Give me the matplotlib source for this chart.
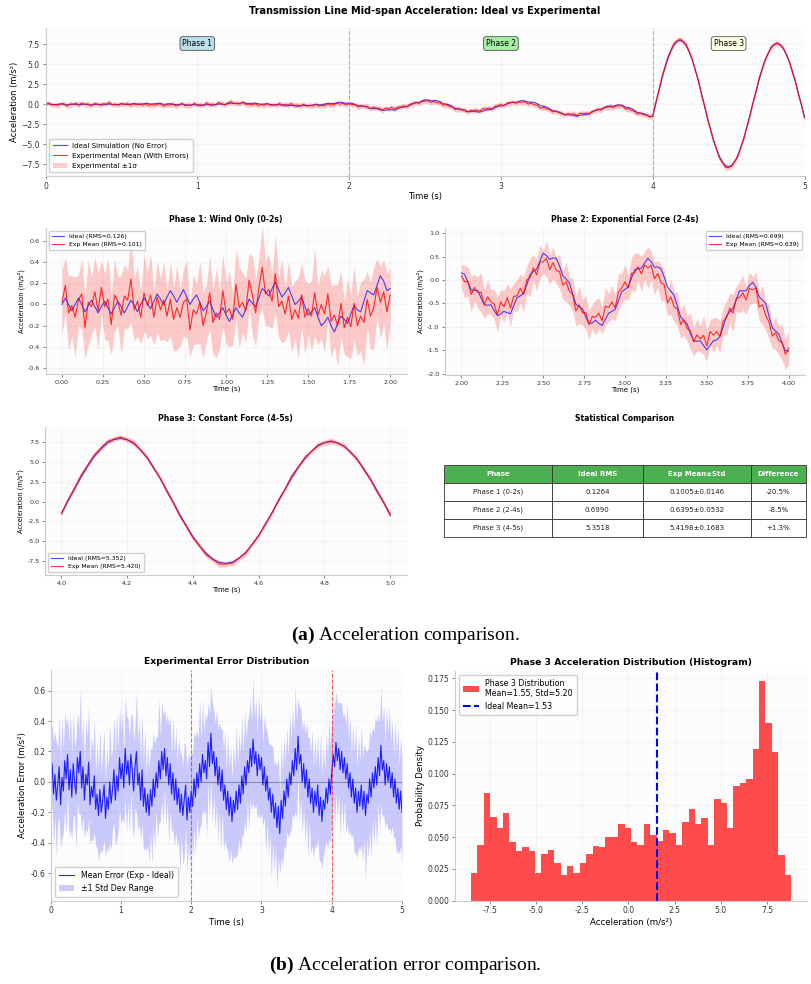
import numpy as np
import matplotlib
matplotlib.use("Agg")
import matplotlib.pyplot as plt

plt.rcParams["mathtext.fontset"] = "custom"
plt.rcParams["mathtext.rm"] = "Liberation Serif"
plt.rcParams["mathtext.bf"] = "Liberation Serif:bold"

# ---------------- data ----------------
t_start, t_end, n_samples = 0.0, 5.0, 251

ideal_acc = [
    # phase 1 (0-2 s)
    0.00, 0.06, 0.00, -0.06, 0.00, 0.06, 0.00, -0.07, -0.01, 0.04,
    -0.02, -0.08, -0.02, 0.03, -0.03, -0.09, -0.03, 0.03, -0.02, -0.08,
    -0.02, 0.04, -0.01, -0.07, 0.00, 0.06, 0.01, -0.04, 0.03, 0.10,
    0.05, 0.00, 0.07, 0.13, 0.08, 0.02, 0.08, 0.14, 0.07, 0.00,
    0.05, 0.09, 0.02, -0.06, -0.02, 0.03, -0.05, -0.12, -0.08, -0.03,
    -0.10, -0.16, -0.10, -0.03, -0.08, -0.12, -0.04, 0.05, 0.01, -0.02,
    0.06, 0.15, 0.12, 0.08, 0.15, 0.21, 0.14, 0.07, 0.11, 0.16,
    0.08, 0.00, 0.03, 0.07, -0.02, -0.10, -0.07, -0.03, -0.12, -0.20,
    -0.17, -0.12, -0.20, -0.26, -0.18, -0.11, -0.14, -0.18, -0.09, -0.01,
    -0.05, -0.07, 0.03, 0.13, 0.11, 0.09, 0.18, 0.27, 0.22, 0.13,
    # phase 2 (2-4 s)
    0.15, 0.12, -0.05, -0.21, -0.22, -0.23, -0.38, -0.53, -0.54, -0.53,
    -0.65, -0.76, -0.73, -0.67, -0.70, -0.72, -0.55, -0.38, -0.34, -0.29,
    -0.10, 0.11, 0.18, 0.23, 0.40, 0.57, 0.52, 0.44, 0.47, 0.46,
    0.30, 0.09, 0.02, -0.06, -0.29, -0.52, -0.57, -0.62, -0.79, -0.93,
    -0.92, -0.86, -0.93, -0.97, -0.84, -0.71, -0.67, -0.63, -0.44, -0.25,
    -0.20, -0.15, 0.04, 0.22, 0.24, 0.25, 0.36, 0.46, 0.39, 0.27,
    0.28, 0.24, 0.06, -0.15, -0.24, -0.33, -0.56, -0.79, -0.87, -0.94,
    -1.15, -1.30, -1.31, -1.30, -1.40, -1.49, -1.40, -1.30, -1.28, -1.21,
    -1.00, -0.77, -0.68, -0.61, -0.42, -0.23, -0.23, -0.23, -0.12, -0.05,
    -0.15, -0.36, -0.43, -0.50, -0.77, -1.02, -1.09, -1.16, -1.35, -1.51,
    # phase 3 (4-5 s)
    -1.52, 0.08, 1.63, 3.13, 4.51, 5.71, 6.69, 7.42, 7.86, 8.00,
    7.83, 7.36, 6.60, 5.58, 4.36, 2.97, 1.47, -0.08, -1.60, -3.07,
    -4.41, -5.58, -6.53, -7.24, -7.67, -7.80, -7.63, -7.16, -6.42, -5.43,
    -4.24, -2.89, -1.43, 0.07, 1.56, 3.00, 4.31, 5.44, 6.37, 7.05,
    7.47, 7.60, 7.44, 6.99, 6.28, 5.32, 4.16, 2.84, 1.41, -0.07,
    -1.55,
]

mean_error = [
    0.02, 0.12, -0.08, 0.05, -0.12, -0.02, 0.10, -0.15, 0.03, -0.06,
    0.14, 0.02, 0.18, -0.05, 0.08, -0.10, 0.12, 0.00, -0.08, 0.16,
    0.06, 0.20, -0.04, 0.10, -0.12, 0.05, -0.02, 0.13, -0.15, -0.03,
    -0.10, 0.04, -0.18, -0.08, -0.22, -0.05, -0.20, -0.12, -0.02, -0.24,
    -0.10, -0.18, 0.00, -0.14, -0.05, 0.08, -0.12, 0.04, -0.06, 0.16,
    0.02, 0.12, -0.04, 0.22, 0.05, 0.14, -0.02, 0.18, 0.08, -0.06,
    0.10, 0.20, -0.02, 0.06, -0.12, 0.08, -0.16, -0.04, -0.20, -0.08,
    -0.22, -0.05, -0.16, 0.02, -0.10, 0.06, -0.04, 0.14, 0.02, 0.20,
    0.08, 0.22, 0.04, 0.16, -0.02, 0.12, -0.08, 0.06, -0.12, 0.02,
    -0.15, -0.04, -0.20, -0.08, -0.22, -0.12, -0.02, -0.25, -0.10, -0.20,
    -0.06, -0.16, 0.02, -0.10, 0.06, -0.04, 0.12, 0.00, 0.18, 0.06,
    0.14, 0.02, 0.26, 0.10, 0.32, 0.12, 0.20, 0.04, 0.16, -0.02,
    0.10, -0.06, 0.08, -0.12, -0.02, -0.18, -0.06, -0.22, -0.10, -0.26,
    -0.12, -0.20, -0.06, -0.18, -0.02, -0.14, 0.04, -0.08, 0.10, -0.02,
    0.14, 0.06, 0.22, 0.10, 0.28, 0.12, 0.20, 0.04, 0.18, 0.08,
    0.16, -0.02, 0.10, -0.06, 0.04, -0.12, -0.04, -0.20, -0.08, -0.24,
    -0.14, -0.30, -0.16, -0.34, -0.12, -0.24, -0.06, -0.16, 0.02, -0.10,
    0.06, -0.02, 0.14, 0.04, 0.22, 0.08, 0.30, 0.12, 0.18, 0.00,
    0.12, -0.04, 0.08, -0.10, 0.02, -0.14, -0.04, -0.20, -0.06, -0.16,
    -0.02, -0.22, -0.10, -0.26, -0.12, -0.18, -0.04, -0.14, 0.02, -0.08,
    0.06, 0.18, 0.10, 0.26, 0.14, 0.22, 0.08, 0.20, 0.06, 0.16,
    0.02, 0.12, -0.04, 0.06, -0.10, 0.02, -0.14, -0.04, -0.20, -0.06,
    -0.16, -0.02, -0.18, -0.06, -0.22, -0.08, -0.14, 0.02, -0.10, 0.06,
    -0.04, 0.10, -0.02, 0.16, 0.04, 0.24, 0.08, 0.14, -0.02, 0.12,
    0.00, 0.10, -0.04, 0.06, -0.10, 0.02, -0.14, -0.04, -0.18, -0.06,
    -0.20,
]

std_error = [
    0.30, 0.26, 0.35, 0.28, 0.38, 0.24, 0.33, 0.29, 0.40, 0.27,
    0.32, 0.36, 0.25, 0.31, 0.39, 0.28, 0.34, 0.23, 0.37, 0.30,
    0.27, 0.41, 0.29, 0.33, 0.25, 0.36, 0.31, 0.38, 0.26, 0.34,
    0.29, 0.37, 0.24, 0.35, 0.30, 0.40, 0.27, 0.32, 0.36, 0.25,
    0.33, 0.28, 0.39, 0.31, 0.26, 0.35, 0.30, 0.42, 0.27, 0.34,
    0.29, 0.36, 0.24, 0.33, 0.38, 0.28, 0.31, 0.25, 0.37, 0.32,
    0.27, 0.40, 0.30, 0.34, 0.26, 0.36, 0.29, 0.39, 0.25, 0.33,
    0.31, 0.27, 0.38, 0.30, 0.35, 0.24, 0.33, 0.41, 0.28, 0.32,
    0.36, 0.26, 0.34, 0.29, 0.39, 0.31, 0.25, 0.37, 0.30, 0.35,
    0.28, 0.33, 0.40, 0.26, 0.32, 0.38, 0.27, 0.34, 0.30, 0.36,
    0.25, 0.35, 0.31, 0.39, 0.28, 0.33, 0.42, 0.29, 0.36, 0.27,
    0.32, 0.38, 0.26, 0.34, 0.30, 0.40, 0.28, 0.35, 0.31, 0.37,
    0.29, 0.41, 0.27, 0.33, 0.36, 0.25, 0.39, 0.31, 0.34, 0.28,
    0.37, 0.30, 0.43, 0.29, 0.35, 0.32, 0.40, 0.27, 0.36, 0.31,
    0.26, 0.38, 0.33, 0.29, 0.41, 0.30, 0.35, 0.28, 0.39, 0.32,
    0.36, 0.27, 0.34, 0.42, 0.30, 0.37, 0.29, 0.44, 0.31, 0.35,
    0.28, 0.40, 0.33, 0.26, 0.38, 0.31, 0.36, 0.29, 0.34, 0.27,
    0.39, 0.30, 0.35, 0.28, 0.41, 0.32, 0.25, 0.37, 0.30, 0.34,
    0.29, 0.36, 0.31, 0.40, 0.27, 0.33, 0.38, 0.30, 0.35, 0.28,
    0.34, 0.29, 0.42, 0.31, 0.37, 0.26, 0.35, 0.30, 0.39, 0.32,
    0.36, 0.28, 0.41, 0.33, 0.38, 0.30, 0.44, 0.32, 0.37, 0.29,
    0.35, 0.40, 0.31, 0.38, 0.27, 0.36, 0.33, 0.42, 0.30, 0.37,
    0.29, 0.39, 0.34, 0.31, 0.43, 0.28, 0.36, 0.32, 0.40, 0.30,
    0.37, 0.33, 0.41, 0.29, 0.35, 0.39, 0.31, 0.36, 0.28, 0.38,
    0.32, 0.40, 0.30, 0.35, 0.27, 0.38, 0.33, 0.41, 0.29, 0.36,
    0.34,
]

# phase 3 histogram (density per bin)
hist_range = (-8.51, 8.80)
hist_density = [
    0.022, 0.044, 0.085, 0.066, 0.057, 0.069, 0.046, 0.039, 0.042, 0.039,
    0.022, 0.037, 0.040, 0.030, 0.020, 0.027, 0.022, 0.030, 0.037, 0.043,
    0.042, 0.050, 0.050, 0.060, 0.057, 0.046, 0.044, 0.060, 0.052, 0.047,
    0.056, 0.053, 0.044, 0.062, 0.072, 0.060, 0.065, 0.044, 0.080, 0.077,
    0.057, 0.090, 0.093, 0.096, 0.119, 0.173, 0.140, 0.117, 0.036, 0.020,
]
ideal_mean_p3 = 1.53
hist_label = "Phase 3 Distribution\nMean=1.55, Std=5.20"

phase_bounds = [2.0, 4.0]
phase_names = ["Phase 1", "Phase 2", "Phase 3"]
phase_label_t = [1.0, 3.0, 4.5]
phase_label_colors = ["lightblue", "lightgreen", "lightyellow"]

ideal_rms_labels = ["Ideal (RMS=0.126)", "Ideal (RMS=0.699)", "Ideal (RMS=5.352)"]
exp_rms_labels = ["Exp Mean (RMS=0.101)", "Exp Mean (RMS=0.639)", "Exp Mean (RMS=5.420)"]

table_cols = ["Phase", "Ideal RMS", "Exp Mean±Std", "Difference"]
table_rows = [
    ["Phase 1 (0-2s)", "0.1264", "0.1005±0.0146", "-20.5%"],
    ["Phase 2 (2-4s)", "0.6990", "0.6395±0.0532", "-8.5%"],
    ["Phase 3 (4-5s)", "5.3518", "5.4198±0.1683", "+1.3%"],
]

# ---------------- derived ----------------
t = np.linspace(t_start, t_end, n_samples)
ideal = np.array(ideal_acc)
err = np.array(mean_error)
std = np.array(std_error)
exp_mean = ideal + err

# ---------------- figure ----------------
W, H = 811, 984
fig = plt.figure(figsize=(W / 100, H / 100), dpi=100)
fig.patch.set_facecolor("white")


def rect(l, tp, r, b):
    return [l / W, 1 - b / H, (r - l) / W, (b - tp) / H]


def style(ax, fs):
    ax.set_facecolor("#fcfcfc")
    for s in ["top", "right"]:
        ax.spines[s].set_visible(False)
    for s in ["left", "bottom"]:
        ax.spines[s].set_color("#cccccc")
        ax.spines[s].set_linewidth(0.8)
    ax.grid(True, color="#e6e6e6", linewidth=0.5, alpha=0.6)
    ax.set_axisbelow(True)
    ax.tick_params(labelsize=fs, length=2, width=0.5, color="#555555",
                   labelcolor="#333333", pad=2)


blue_line = dict(color="blue", alpha=0.7, linewidth=0.8)
red_line = dict(color="red", alpha=0.8, linewidth=0.8)

# ---- top overview ----
ax0 = fig.add_axes(rect(45.5, 28, 804.5, 176))
style(ax0, 5.5)
ax0.fill_between(t, exp_mean - std, exp_mean + std, color="red", alpha=0.2,
                 linewidth=0, label="Experimental ±1σ")
ax0.plot(t, ideal, label="Ideal Simulation (No Error)", **blue_line)
ax0.plot(t, exp_mean, label="Experimental Mean (With Errors)", **red_line)
for b in phase_bounds:
    ax0.axvline(b, color="gray", linestyle="--", alpha=0.6, linewidth=0.8)
for name, tx, c in zip(phase_names, phase_label_t, phase_label_colors):
    ax0.text(tx, 7.6, name, ha="center", va="center", fontsize=5.5,
             bbox=dict(boxstyle="round,pad=0.3", facecolor=c, alpha=0.8,
                       edgecolor="black", linewidth=0.5))
ax0.set_xlim(0, 5)
ax0.set_ylim(-8.96, 9.54)
ax0.set_yticks([-7.5, -5.0, -2.5, 0.0, 2.5, 5.0, 7.5])
ax0.set_xticks([0, 1, 2, 3, 4, 5])
ax0.set_xlabel("Time (s)", fontsize=6, labelpad=1)
ax0.set_ylabel("Acceleration (m/s²)", fontsize=6, labelpad=2)
ax0.set_title("Transmission Line Mid-span Acceleration: Ideal vs Experimental",
              fontsize=7, fontweight="bold", pad=10)
h, l = ax0.get_legend_handles_labels()
ax0.legend([h[1], h[2], h[0]], [l[1], l[2], l[0]], loc="lower left",
           fontsize=5.1, frameon=True, framealpha=0.9, edgecolor="#cccccc",
           handlelength=2.0, borderpad=0.5, labelspacing=0.5)

# ---- phase panels ----
phase_specs = [
    (0, 101, rect(45.6, 228, 406.6, 374), (-0.1, 2.1), (-0.655, 0.72),
     np.arange(0, 2.01, 0.25), np.arange(-0.6, 0.61, 0.2),
     "Phase 1: Wind Only (0-2s)", "upper left", "{:.2f}", "{:.1f}"),
    (100, 201, rect(445, 228, 805, 375), (1.9, 4.1), (-2.03, 1.11),
     np.arange(2.0, 4.01, 0.25), np.arange(-2.0, 1.01, 0.5),
     "Phase 2: Exponential Force (2-4s)", "upper right", "{:.2f}", "{:.1f}"),
    (200, 251, rect(45, 427, 406.7, 575), (3.95, 5.05), (-9.27, 9.45),
     np.arange(4.0, 5.01, 0.2), np.arange(-7.5, 7.51, 2.5),
     "Phase 3: Constant Force (4-5s)", "lower left", "{:.1f}", "{:.1f}"),
]
for k, (i0, i1, r, xl, yl, xt, yt, title, loc, xf, yf) in enumerate(phase_specs):
    ax = fig.add_axes(r)
    style(ax, 4.6)
    tt = t[i0:i1]
    ax.fill_between(tt, exp_mean[i0:i1] - std[i0:i1], exp_mean[i0:i1] + std[i0:i1],
                    color="red", alpha=0.2, linewidth=0)
    ax.plot(tt, ideal[i0:i1], label=ideal_rms_labels[k], **blue_line)
    ax.plot(tt, exp_mean[i0:i1], label=exp_rms_labels[k], **red_line)
    ax.set_xlim(*xl)
    ax.set_ylim(*yl)
    ax.set_xticks(xt)
    ax.set_xticklabels([xf.format(v) for v in xt])
    ax.set_yticks(yt)
    ax.set_yticklabels([yf.format(v) for v in yt])
    ax.set_xlabel("Time (s)", fontsize=5, labelpad=1)
    ax.set_ylabel("Acceleration (m/s²)", fontsize=4.8, labelpad=2)
    ax.set_title(title, fontsize=5.6, fontweight="bold", pad=4)
    ax.legend(loc=loc, fontsize=4.4, frameon=True, framealpha=0.9,
              edgecolor="#cccccc", handlelength=2.0, borderpad=0.5,
              labelspacing=0.4)

# ---- statistics table ----
axt = fig.add_axes(rect(445, 427, 805, 575))
axt.axis("off")
axt.set_title("Statistical Comparison", fontsize=5.6, fontweight="bold", pad=4)
tab = axt.table(cellText=table_rows, colLabels=table_cols, cellLoc="center",
                colWidths=[0.298, 0.251, 0.298, 0.153],
                bbox=[-0.003, 0.257, 1.006, 0.486])
tab.auto_set_font_size(False)
tab.set_fontsize(5.0)
for (rr, cc), cell in tab.get_celld().items():
    cell.set_edgecolor("#333333")
    cell.set_linewidth(0.6)
    if rr == 0:
        cell.set_facecolor("#4CAF50")
        cell.get_text().set_color("white")
        cell.get_text().set_fontweight("bold")
    else:
        cell.set_facecolor("white")
        cell.get_text().set_color("#222222")

# ---- caption (a) ----
fig.text(0.5, 1 - 635 / H, r"$\mathbf{(a)}$ Acceleration comparison.", ha="center",
         va="center", fontsize=14, family="Liberation Serif")

# ---- error distribution ----
axe = fig.add_axes(rect(50.7, 670, 402, 900.7))
style(axe, 5.5)
axe.fill_between(t, err - std, err + std, color="blue", alpha=0.2, linewidth=0,
                 label="±1 Std Dev Range")
axe.plot(t, err, color="blue", alpha=0.85, linewidth=0.8,
         label="Mean Error (Exp - Ideal)")
axe.axhline(0, color="black", alpha=0.3, linewidth=0.8)
for b in phase_bounds:
    axe.axvline(b, color="red", linestyle="--", alpha=0.6, linewidth=0.8)
axe.set_xlim(0, 5)
axe.set_ylim(-0.78, 0.735)
axe.set_xticks([0, 1, 2, 3, 4, 5])
axe.set_yticks(np.arange(-0.6, 0.61, 0.2))
axe.set_yticklabels(["{:.1f}".format(v) for v in np.arange(-0.6, 0.61, 0.2)])
axe.set_xlabel("Time (s)", fontsize=6.2, labelpad=2)
axe.set_ylabel("Acceleration Error (m/s²)", fontsize=6.2, labelpad=2)
axe.set_title("Experimental Error Distribution", fontsize=6.7, fontweight="bold",
              pad=4)
h, l = axe.get_legend_handles_labels()
axe.legend([h[1], h[0]], [l[1], l[0]], loc="lower left", fontsize=5.7,
           frameon=True, framealpha=0.9, edgecolor="#cccccc",
           handlelength=2.0, borderpad=0.5, labelspacing=0.5)

# ---- histogram ----
axh = fig.add_axes(rect(455, 670.7, 807, 900.7))
style(axh, 5.5)
edges = np.linspace(hist_range[0], hist_range[1], len(hist_density) + 1)
centers = 0.5 * (edges[:-1] + edges[1:])
axh.hist(centers, bins=edges, weights=hist_density, color="red", alpha=0.7,
         label=hist_label)
axh.axvline(ideal_mean_p3, color="blue", linestyle="--", linewidth=1.5,
            label=f"Ideal Mean={ideal_mean_p3:.2f}")
axh.set_xlim(-9.38, 9.67)
axh.set_ylim(0, 0.181)
xt_h = [-7.5, -5.0, -2.5, 0.0, 2.5, 5.0, 7.5]
axh.set_xticks(xt_h)
axh.set_xticklabels(["{:.1f}".format(v) for v in xt_h])
yt_h = np.arange(0, 0.176, 0.025)
axh.set_yticks(yt_h)
axh.set_yticklabels(["{:.3f}".format(v) for v in yt_h])
axh.set_xlabel("Acceleration (m/s²)", fontsize=6.2, labelpad=2)
axh.set_ylabel("Probability Density", fontsize=6.2, labelpad=2)
axh.set_title("Phase 3 Acceleration Distribution (Histogram)", fontsize=6.7,
              fontweight="bold", pad=4)
axh.legend(loc="upper left", fontsize=5.7, frameon=True, framealpha=0.9,
           edgecolor="#cccccc", handlelength=2.0, borderpad=0.5,
           labelspacing=0.5)

# ---- caption (b) ----
fig.text(0.5, 1 - 965 / H, r"$\mathbf{(b)}$ Acceleration error comparison.",
         ha="center", va="center", fontsize=14, family="Liberation Serif")

fig.savefig("out.png", dpi=100, facecolor="white")
